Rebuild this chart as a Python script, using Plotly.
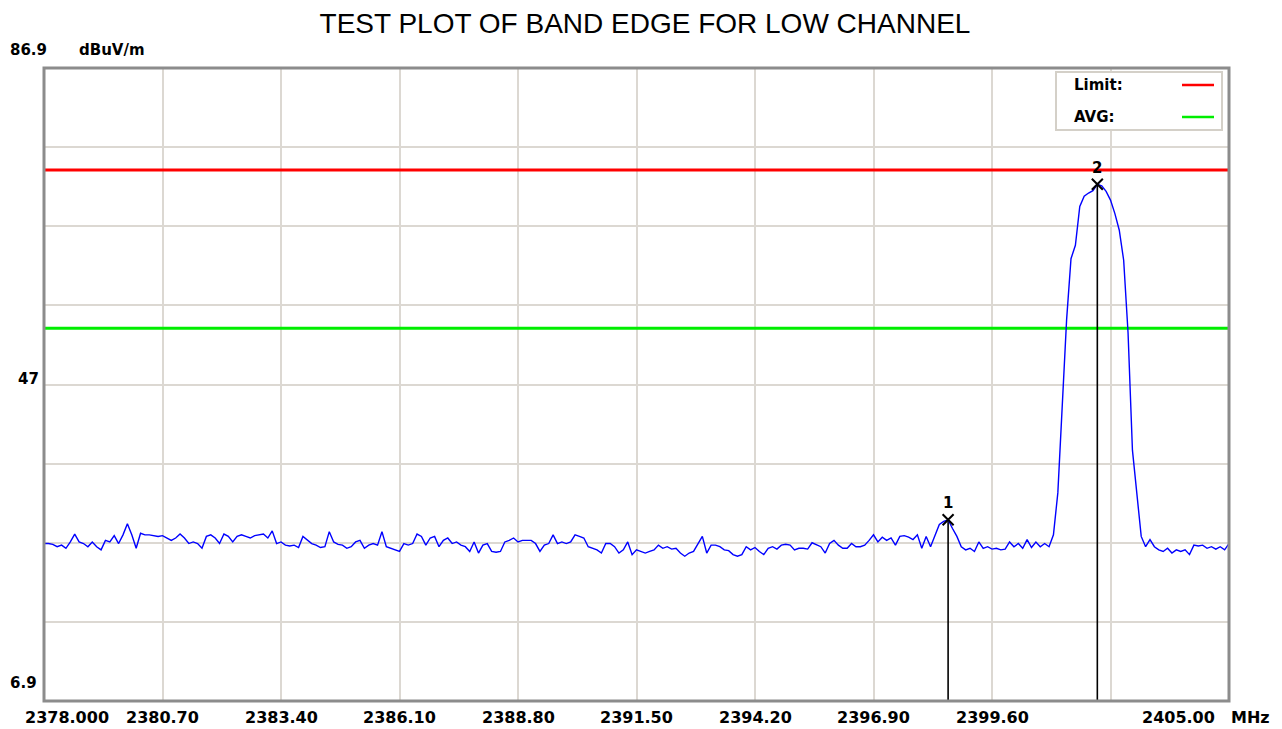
import numpy as np
import plotly.graph_objects as go

# ---------------- data ----------------
title_text = "TEST PLOT OF BAND EDGE FOR LOW CHANNEL"
freq_start_mhz = 2378.0
freq_stop_mhz = 2405.0
freq_step_mhz = 0.1

# measured level (dBuV/m) every 0.1 MHz from 2378.0 to 2405.0
level_dbuv = [
    26.8, 26.8, 26.7, 26.4, 26.6, 26.2, 27.0, 28.0, 27.0, 26.8,
    26.4, 27.0, 26.4, 26.0, 27.2, 27.0, 27.8, 26.8, 27.9, 29.3,
    27.9, 26.2, 28.1, 27.9, 27.9, 27.8, 27.7, 27.8, 27.5, 27.2,
    27.5, 28.0, 27.5, 26.8, 27.0, 26.8, 26.2, 27.7, 27.9, 27.5,
    26.8, 28.0, 27.7, 27.0, 27.7, 27.9, 27.7, 27.5, 27.8, 27.9,
    28.0, 27.5, 28.4, 26.8, 27.0, 26.6, 26.5, 26.6, 26.3, 27.7,
    27.2, 26.8, 26.6, 26.3, 26.4, 28.3, 27.0, 26.7, 26.6, 26.2,
    26.4, 27.0, 27.2, 26.2, 26.6, 26.8, 26.6, 28.3, 26.4, 26.2,
    26.1, 25.8, 26.8, 26.6, 26.8, 28.0, 27.7, 26.6, 27.5, 27.7,
    26.4, 27.2, 27.5, 26.8, 27.0, 26.6, 26.4, 25.8, 27.0, 25.6,
    26.6, 26.8, 25.8, 25.7, 25.8, 27.0, 27.2, 27.5, 27.0, 27.2,
    27.2, 27.2, 26.8, 25.8, 26.6, 26.8, 27.9, 26.8, 27.0, 26.8,
    27.0, 27.9, 27.7, 27.5, 26.4, 26.2, 26.0, 25.6, 26.8, 26.8,
    26.4, 25.6, 26.0, 27.0, 25.4, 26.0, 25.8, 25.6, 25.8, 26.0,
    26.6, 26.2, 26.4, 26.1, 26.2, 25.6, 25.2, 25.6, 25.8, 26.8,
    27.7, 25.6, 26.6, 26.6, 26.4, 26.0, 25.9, 25.4, 25.2, 25.4,
    26.4, 26.0, 26.3, 25.8, 25.4, 26.2, 26.4, 26.1, 26.6, 26.7,
    26.6, 26.0, 26.2, 26.2, 26.1, 26.9, 26.6, 26.4, 25.6, 26.8,
    27.2, 26.6, 26.2, 26.2, 26.8, 26.4, 26.4, 26.6, 27.2, 27.9,
    27.0, 27.6, 27.2, 27.5, 26.6, 27.7, 27.8, 27.6, 27.3, 27.9,
    26.2, 27.7, 26.4, 27.9, 29.2, 29.6, 29.8, 28.7, 27.7, 26.4,
    26.0, 26.2, 25.8, 27.0, 26.2, 26.4, 26.1, 26.2, 26.0, 26.1,
    27.0, 26.4, 26.8, 26.2, 27.3, 26.3, 27.0, 26.4, 26.8, 26.4,
    27.9, 33.2, 44.1, 55.1, 62.8, 64.5, 69.4, 70.7, 71.1, 71.4,
    72.2, 72.0, 71.3, 70.2, 68.5, 66.4, 62.6, 53.4, 38.6, 32.8,
    27.7, 26.4, 27.3, 26.4, 26.0, 25.8, 26.2, 25.6, 26.0, 25.8,
    26.0, 25.4, 26.6, 26.5, 26.6, 26.2, 26.4, 26.1, 26.4, 26.0, 26.8,
]

limit_dbuv = 74.0
avg_limit_dbuv = 54.0

marker_labels = ["1", "2"]
marker_freqs = [2398.6, 2402.0]
marker_levels = [29.8, 72.2]

y_min, y_max = 6.9, 86.9
y_tick_vals = [86.9, 47, 6.9]
y_tick_text = ["86.9", "47", "6.9"]
y_unit = "dBuV/m"

x_tick_vals = [2378.0, 2380.7, 2383.4, 2386.1, 2388.8, 2391.5, 2394.2, 2396.9, 2399.6, 2405.0]
x_tick_text = ["2378.000", "2380.70", "2383.40", "2386.10", "2388.80", "2391.50",
               "2394.20", "2396.90", "2399.60", "2405.00"]
x_unit = "MHz"

legend_names = ["Limit:", "AVG:"]
legend_colors = ["#ff0000", "#00ee00"]

# ---------------- figure ----------------
freqs = freq_start_mhz + freq_step_mhz * np.arange(len(level_dbuv))

LBL_FONT = dict(family="DejaVu Sans, Verdana, sans-serif", size=15, color="#000000",
                weight="bold")
XLBL_FONT = dict(family="DejaVu Sans, Verdana, sans-serif", size=16, color="#000000",
                 weight="bold")

fig = go.Figure()

# limit lines
fig.add_trace(go.Scatter(x=[freq_start_mhz, freq_stop_mhz], y=[limit_dbuv, limit_dbuv],
                         mode="lines", line=dict(color=legend_colors[0], width=3),
                         showlegend=False, hoverinfo="skip"))
fig.add_trace(go.Scatter(x=[freq_start_mhz, freq_stop_mhz], y=[avg_limit_dbuv, avg_limit_dbuv],
                         mode="lines", line=dict(color=legend_colors[1], width=3),
                         showlegend=False, hoverinfo="skip"))

# marker drop lines
for f, lv in zip(marker_freqs, marker_levels):
    fig.add_trace(go.Scatter(x=[f, f], y=[y_min, lv], mode="lines",
                             line=dict(color="#000000", width=1.6),
                             showlegend=False, hoverinfo="skip"))

# measured trace
fig.add_trace(go.Scatter(x=freqs, y=level_dbuv, mode="lines",
                         line=dict(color="#0000ff", width=1.4),
                         showlegend=False, name="Level"))

# marker crosses with labels
fig.add_trace(go.Scatter(x=marker_freqs, y=marker_levels, mode="markers+text",
                         marker=dict(symbol="x-thin-open", size=11,
                                     line=dict(color="#000000", width=2), color="#000000"),
                         text=marker_labels, textposition="top center",
                         textfont=dict(family="DejaVu Sans, sans-serif", size=15,
                                       color="#000000", weight="bold"),
                         showlegend=False, hoverinfo="skip"))

annotations = []
# y labels
y_label_shift = {"86.9": (-16, 18), "47": (-16, 5), "6.9": (-21, 18)}
for v, t in zip(y_tick_vals, y_tick_text):
    xs, ys = y_label_shift[t]
    annotations.append(dict(x=0, y=v, xref="paper", yref="y", text=t, showarrow=False,
                            xanchor="center", yanchor="middle", xshift=xs, yshift=ys,
                            font=LBL_FONT))
annotations.append(dict(x=0, y=y_max, xref="paper", yref="y", text=y_unit, showarrow=False,
                        xanchor="center", yanchor="middle", xshift=68, yshift=18,
                        font=LBL_FONT))
# x labels
for v, t in zip(x_tick_vals, x_tick_text):
    xs = 0
    if v == x_tick_vals[0]:
        xs = 23
    elif v == x_tick_vals[-1]:
        xs = -51
    annotations.append(dict(x=v, y=0, xref="x", yref="paper", text=t, showarrow=False,
                            xanchor="center", yanchor="middle", xshift=xs, yshift=-16,
                            font=XLBL_FONT))
annotations.append(dict(x=1, y=0, xref="paper", yref="paper", text=x_unit, showarrow=False,
                        xanchor="center", yanchor="middle", xshift=21, yshift=-16,
                        font=XLBL_FONT))

# legend (text left, line right) drawn in paper coordinates
PW, PH = 1185.0, 633.0
def px(xpix):
    return (xpix - 44) / PW
def py(ypix):
    return (701 - ypix) / PH

shapes = [
    dict(type="rect", xref="paper", yref="paper", x0=px(1056), x1=px(1222), y0=py(130), y1=py(72),
         line=dict(color="#d4d0c8", width=2), fillcolor="#ffffff", layer="above"),
]
leg_rows = [85, 117]
for name, col, row in zip(legend_names, legend_colors, leg_rows):
    shapes.append(dict(type="line", xref="paper", yref="paper", x0=px(1182), x1=px(1214),
                       y0=py(row), y1=py(row), line=dict(color=col, width=2.5), layer="above"))
    annotations.append(dict(x=px(1072), y=py(row), xref="paper", yref="paper", text=name,
                            showarrow=False, xanchor="left", yanchor="middle", font=LBL_FONT))

# frame
shapes.append(dict(type="rect", xref="paper", yref="paper", x0=0, x1=1, y0=0, y1=1,
                   line=dict(color="#8c8c8c", width=3), layer="above"))

# the page places the figure 8 px in from the top-left corner
fig.update_layout(
    width=1274, height=721,
    margin=dict(l=36, r=53, t=60, b=28),
    paper_bgcolor="#ffffff", plot_bgcolor="#ffffff",
    title=dict(text=title_text, x=0.5, xref="container", xanchor="center",
               y=1 - 15 / 721, yref="container", yanchor="middle",
               font=dict(family="Liberation Sans, Arial, sans-serif", size=28, color="#000000")),
    xaxis=dict(range=[freq_start_mhz, freq_stop_mhz], tick0=freq_start_mhz, dtick=2.7,
               showticklabels=False, showgrid=True, gridcolor="#dcd8d2", gridwidth=2,
               zeroline=False, showline=False, ticks=""),
    yaxis=dict(range=[y_min, y_max], tick0=y_min, dtick=10,
               showticklabels=False, showgrid=True, gridcolor="#dcd8d2", gridwidth=2,
               zeroline=False, showline=False, ticks=""),
    annotations=annotations,
    shapes=shapes,
    showlegend=False,
)

fig.write_html("out.html")
